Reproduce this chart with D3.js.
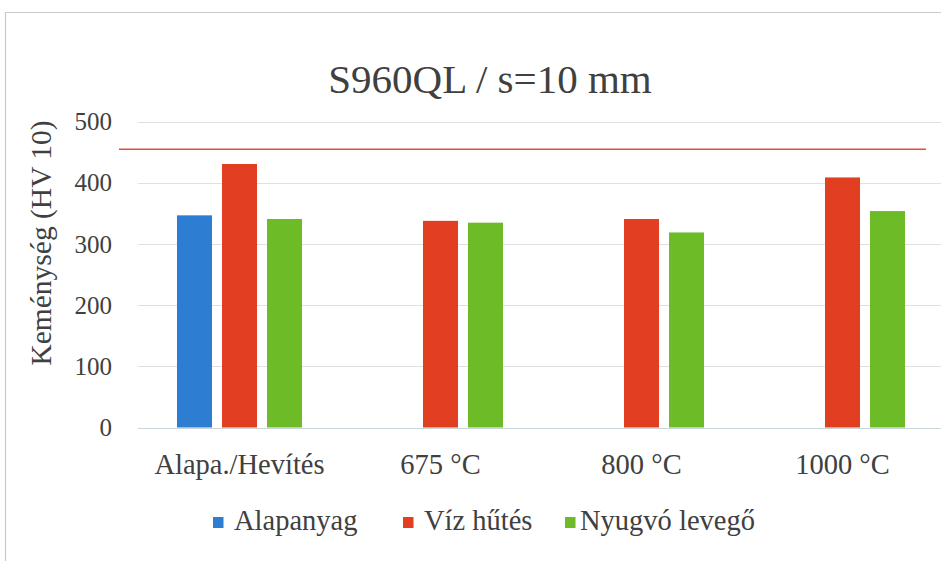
<!DOCTYPE html>
<html>
<head>
<meta charset="utf-8">
<script src="https://cdn.jsdelivr.net/npm/d3@7"></script>
<style>
  html, body { margin: 0; padding: 0; background: #ffffff; }
  svg { display: block; }
  svg text { font-family: "Liberation Serif", Tinos, "DejaVu Serif", "Noto Serif", serif !important; fill: #404040; }
</style>
</head>
<body>
<svg id="chart" width="941" height="561"></svg>
<script>
// Hardness of S960QL, 10 mm plate
const categories = ["Alapa./Hevítés", "675 °C", "800 °C", "1000 °C"];
const seriesNames = ["Alapanyag", "Víz hűtés", "Nyugvó levegő"];
const alapanyag = [347, null, null, null];
const vizHutes = [431, 338, 341, 409];
const nyugvoLevego = [341, 335, 319, 354];
const yTicks = [0, 100, 200, 300, 400, 500];
const limitValue = 455;
const titleText = "S960QL / s=10 mm";
const yTitle = "Keménység (HV 10)";

const seriesValues = [alapanyag, vizHutes, nyugvoLevego];
const colors = ["#2d7dd2", "#e23e22", "#6dbb27"];
const serif = "'Liberation Serif', Tinos, 'DejaVu Serif', serif";

const svg = d3.select("#chart");

// Chart frame
svg.append("line").attr("x1", 5).attr("x2", 941).attr("y1", 12.5).attr("y2", 12.5)
  .attr("stroke", "#c9c9c9").attr("stroke-width", 1.2);
svg.append("line").attr("x1", 5.5).attr("x2", 5.5).attr("y1", 12).attr("y2", 561)
  .attr("stroke", "#c9c9c9").attr("stroke-width", 1.2);

const plotLeft = 139, plotRight = 943;
const x0 = d3.scaleBand().domain(categories).range([plotLeft, plotRight]).paddingInner(0).paddingOuter(0);
const x1 = d3.scaleBand().domain(seriesNames).range([0, x0.bandwidth()])
  .paddingInner(10 / 45).paddingOuter(0.844);
const y = d3.scaleLinear().domain([0, 500]).range([427.5, 121.8]);

// Value axis labels
const yAxis = d3.axisLeft(y).tickValues(yTicks).tickSize(0).tickPadding(27);
const gy = svg.append("g").attr("transform", `translate(${plotLeft},0)`).call(yAxis);
gy.attr("font-family", serif);
gy.select(".domain").remove();
gy.selectAll("text").attr("font-size", 25).attr("fill", "#404040");

// Gridlines
svg.append("g").selectAll("line").data(yTicks).join("line")
  .attr("x1", plotLeft - 1).attr("x2", 941)
  .attr("y1", d => Math.round(y(d)) + 0.5).attr("y2", d => Math.round(y(d)) + 0.5)
  .attr("stroke", d => d === 0 ? "#cdd6da" : "#e0e0e0").attr("stroke-width", 1);

// Bars
const rows = [];
seriesValues.forEach((vals, si) => {
  vals.forEach((v, ci) => {
    if (v != null) rows.push({ cat: categories[ci], series: seriesNames[si], value: v, color: colors[si] });
  });
});
svg.append("g").selectAll("rect").data(rows).join("rect")
  .attr("x", d => x0(d.cat) + x1(d.series))
  .attr("width", x1.bandwidth())
  .attr("y", d => y(d.value))
  .attr("height", d => y(0) - y(d.value))
  .attr("fill", d => d.color);

// Limit line
svg.append("line")
  .attr("x1", 119).attr("x2", 926)
  .attr("y1", y(limitValue)).attr("y2", y(limitValue))
  .attr("stroke", "#ea4a3f").attr("stroke-width", 1.6);

// Category labels
const gx = svg.append("g").attr("transform", `translate(0,${y(0)})`)
  .call(d3.axisBottom(x0).tickSize(0).tickPadding(26));
gx.attr("font-family", serif);
gx.select(".domain").remove();
gx.selectAll("text").attr("font-size", 28.5).attr("fill", "#404040");

// Title
svg.append("text").attr("x", 490).attr("y", 93).attr("text-anchor", "middle")
  .attr("font-family", serif).attr("font-size", 41).attr("fill", "#333333").text(titleText);

// Y axis title
svg.append("text").attr("transform", "translate(51,243) rotate(-90)")
  .attr("text-anchor", "middle").attr("font-family", serif)
  .attr("font-size", 29.5).attr("fill", "#333333").text(yTitle);

// Legend
const legendX = [213, 403, 565];
const lg = svg.append("g").selectAll("g").data(seriesNames).join("g")
  .attr("transform", (d, i) => `translate(${legendX[i]},0)`);
lg.append("rect").attr("x", 0).attr("y", 517).attr("width", 10.5).attr("height", 11)
  .attr("fill", (d, i) => colors[i]);
lg.append("text").attr("x", (d, i) => i === 2 ? 15 : 21).attr("y", 530).attr("font-family", serif)
  .attr("font-size", 28.5).attr("fill", "#404040").text(d => d);
</script>
</body>
</html>
